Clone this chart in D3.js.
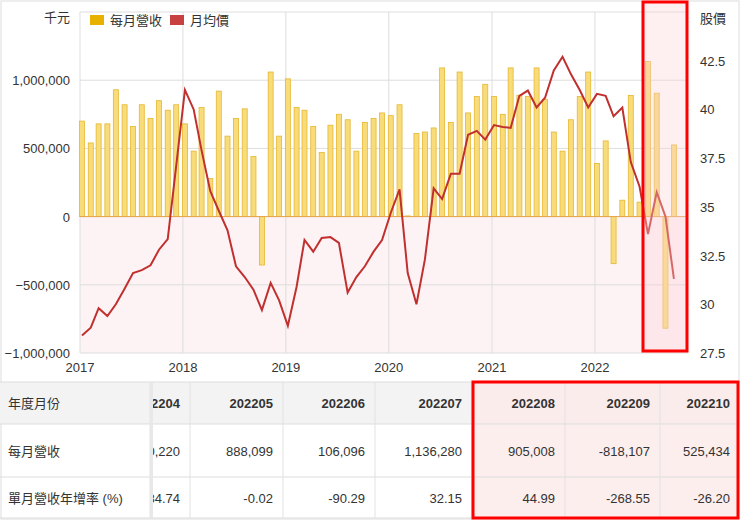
<!DOCTYPE html>
<html>
<head>
<meta charset="utf-8">
<script src="https://cdn.jsdelivr.net/npm/d3@7"></script>
<style>
body { margin: 0; background: #fff; font-family: "Liberation Sans", "Noto Sans CJK TC", sans-serif; }
svg text { fill: #333; }
</style>
</head>
<body>
<svg id="chart" width="740" height="520"></svg>
<script>
/*----------- données ----------- */
const startYear = 2017;
// revenue per month (thousand NTD), Jan 2017 .. Oct 2022
const revenue = [
  700000, 540000, 680000, 680000, 930000, 820000, 660000, 820000, 720000, 850000, 780000, 820000,
  680000, 480000, 800000, 280000, 920000, 590000, 720000, 790000, 440000, -355000, 1060000, 590000,
  1010000, 800000, 780000, 660000, 470000, 670000, 750000, 710000, 480000, 690000, 720000, 760000,
  740000, 820000, 5000, 610000, 620000, 650000, 1090000, 690000, 1060000, 760000, 880000, 970000,
  880000, 750000, 1090000, 890000, 880000, 1090000, 860000, 620000, 480000, 710000, 880000, 1060000,
  390000, 555000, -345000, 120220, 888099, 106096, 1136280, 905008, -818107, 525434
];
// average monthly price
const price = [
  28.4, 28.8, 29.8, 29.4, 30.0, 30.8, 31.6, 31.75, 32.0, 32.8, 33.35, 37.1,
  41.0, 40.0, 37.9, 35.8, 34.8, 33.8, 31.95, 31.4, 30.75, 29.7, 31.1, 30.2,
  28.9, 30.9, 33.3, 32.7, 33.4, 33.45, 33.15, 30.6, 31.4, 31.95, 32.7, 33.3,
  34.7, 35.9, 31.6, 30.0, 32.3, 35.95, 35.4, 36.7, 36.7, 38.7, 38.9, 38.45,
  39.2, 39.1, 39.05, 40.7, 40.97, 40.1, 40.6, 42.0, 42.7, 41.8, 41.0, 40.1,
  40.8, 40.7, 39.65, 40.1, 37.3, 36.05, 33.6, 35.75, 34.5, 31.3
];
const leftTicks = [-1000000, -500000, 0, 500000, 1000000];
const rightTicks = [27.5, 30, 32.5, 35, 37.5, 40, 42.5];
const yearTicks = [2017, 2018, 2019, 2020, 2021, 2022];

const tableMonths = ["202204", "202205", "202206", "202207", "202208", "202209", "202210"];
const tableRevenue = ["120,220", "888,099", "106,096", "1,136,280", "905,008", "-818,107", "525,434"];
const tableYoY = ["-84.74", "-0.02", "-90.29", "32.15", "44.99", "-268.55", "-26.20"];
const rowLabels = ["年度月份", "每月營收", "單月營收年增率 (%)"];

/*----------- échelles ----------- */
const svg = d3.select("#chart");
const L = 80, R = 688, T = 12, B = 353;
const monthDate = i => new Date(startYear, i, 1);
const x = d3.scaleTime().domain([new Date(2017, 0, 1), new Date(2022, 10, 27)]).range([L, R]);
const yL = d3.scaleLinear().domain([-1000000, 1500000]).range([B, T]);
const yR = d3.scaleLinear().domain([27.5, 45]).range([B, T]);

svg.append("rect").attr("x", 1).attr("y", 1).attr("width", 738).attr("height", 518)
  .attr("fill", "none").attr("stroke", "#ddd");

// zone négative rosée
svg.append("rect").attr("x", L).attr("y", yL(0)).attr("width", R - L).attr("height", B - yL(0))
  .attr("fill", "#fdf3f5");

// grille
svg.append("g").selectAll("line").data(leftTicks.concat([1500000])).join("line")
  .attr("x1", L).attr("x2", R).attr("y1", d => yL(d)).attr("y2", d => yL(d))
  .attr("stroke", "#ddd");
svg.append("g").selectAll("line").data(yearTicks).join("line")
  .attr("x1", d => x(new Date(d, 0, 1))).attr("x2", d => x(new Date(d, 0, 1)))
  .attr("y1", T).attr("y2", B).attr("stroke", "#ddd");

// barres
const bw = 5;
svg.append("g").selectAll("rect").data(revenue).join("rect")
  .attr("x", (d, i) => x(monthDate(i)) + 2 - bw / 2)
  .attr("y", d => yL(Math.max(0, d)))
  .attr("width", bw)
  .attr("height", d => Math.abs(yL(d) - yL(0)))
  .attr("fill", "#f9dc7a").attr("stroke", "#e5b731").attr("stroke-width", 0.8);

svg.append("line").attr("x1", L).attr("x2", R).attr("y1", yL(0)).attr("y2", yL(0))
  .attr("stroke", "#e5a54b").attr("stroke-width", 1);

// courbe de prix
svg.append("path").datum(price)
  .attr("d", d3.line().x((d, i) => x(monthDate(i)) + 2).y(d => yR(d)))
  .attr("fill", "none").attr("stroke", "#c0302f").attr("stroke-width", 2);

// axes
const fmt = d3.format(",");
svg.append("g").selectAll("text").data(leftTicks).join("text")
  .attr("x", L - 10).attr("y", d => yL(d) + 5).attr("text-anchor", "end")
  .attr("font-size", 13).text(d => fmt(d));
svg.append("g").selectAll("text").data(rightTicks).join("text")
  .attr("x", 700).attr("y", d => yR(d) + 5)
  .attr("font-size", 13).text(d => d);
svg.append("g").selectAll("text").data(yearTicks).join("text")
  .attr("x", d => x(new Date(d, 0, 1))).attr("y", 372).attr("text-anchor", "middle")
  .attr("font-size", 13).text(d => d);
svg.append("text").attr("x", 70).attr("y", 22).attr("text-anchor", "end").attr("font-size", 13).text("千元");
svg.append("text").attr("x", 700).attr("y", 23).attr("font-size", 13).text("股價");

// légende
const leg = svg.append("g").attr("transform", "translate(90,24)");
leg.append("rect").attr("x", 0).attr("y", -9).attr("width", 14).attr("height", 10).attr("fill", "#e8b100");
leg.append("text").attr("x", 20).attr("y", 1).attr("font-size", 13).text("每月營收");
leg.append("rect").attr("x", 80).attr("y", -9).attr("width", 14).attr("height", 10).attr("fill", "#c84040");
leg.append("text").attr("x", 100).attr("y", 1).attr("font-size", 13).text("月均價");

/*----------- tableau ----------- */
const rowY = [382, 424, 477, 518];
const colX = [150, 190, 283, 375, 472, 565, 660, 740];
const tbl = svg.append("g");
tbl.append("rect").attr("x", 0).attr("y", rowY[0]).attr("width", 740).attr("height", rowY[1] - rowY[0]).attr("fill", "#f3f3f3");
tbl.append("rect").attr("x", 472).attr("y", rowY[0]).attr("width", 268).attr("height", rowY[3] - rowY[0]).attr("fill", "#fdeaea").attr("opacity", 0.8);
tbl.selectAll("line.h").data(rowY).join("line")
  .attr("x1", 0).attr("x2", 740).attr("y1", d => d).attr("y2", d => d).attr("stroke", "#ddd");
tbl.selectAll("line.v").data(colX.slice(0, -1)).join("line")
  .attr("x1", d => d).attr("x2", d => d).attr("y1", rowY[0]).attr("y2", rowY[3]).attr("stroke", "#e2e2e2");
tbl.selectAll("text.lab").data(rowLabels).join("text")
  .attr("x", 8).attr("y", (d, i) => (rowY[i] + rowY[i + 1]) / 2 + 5)
  .attr("font-size", 13).text(d => d);

const clip = svg.append("clipPath").attr("id", "clipT").append("rect")
  .attr("x", 152).attr("y", rowY[0]).attr("width", 588).attr("height", rowY[3] - rowY[0]);
const cells = tbl.append("g").attr("clip-path", "url(#clipT)");
[tableMonths, tableRevenue, tableYoY].forEach((row, r) => {
  cells.selectAll("text.r" + r).data(row).join("text")
    .attr("x", (d, i) => colX[i + 1] - 10)
    .attr("y", (rowY[r] + rowY[r + 1]) / 2 + 5)
    .attr("text-anchor", "end").attr("font-size", 13)
    .attr("font-weight", r == 0 ? "bold" : "normal")
    .text(d => d);
});
// ombre de la colonne figée
tbl.append("rect").attr("x", 150).attr("y", rowY[0]).attr("width", 3).attr("height", rowY[3] - rowY[0]).attr("fill", "#e8e8e8");

/*----------- cadres rouges ----------- */
svg.append("rect").attr("x", 643).attr("y", 2).attr("width", 44).attr("height", 349)
  .attr("fill", "#fbd0d6").attr("fill-opacity", 0.35).attr("stroke", "#f00").attr("stroke-width", 3);
svg.append("rect").attr("x", 473).attr("y", 382).attr("width", 265).attr("height", 136)
  .attr("fill", "none").attr("stroke", "#f00").attr("stroke-width", 3);
</script>
</body>
</html>
